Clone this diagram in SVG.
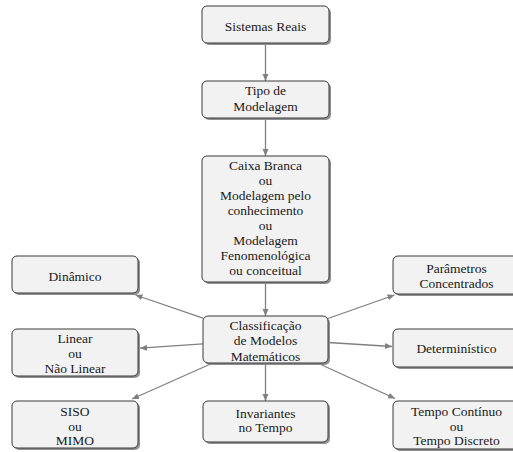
<svg xmlns="http://www.w3.org/2000/svg" width="513" height="452" viewBox="0 0 513 452">
<defs>
<style>
.sh{fill:#8f8f8f;}
.bx{fill:#f2f2f2;stroke:#3a3a3a;stroke-width:1;}
.t{font-family:"Liberation Serif","Times New Roman",Times,Tinos,"Noto Serif","DejaVu Serif","Latin Modern Roman","CMU Serif",serif;font-size:13.5px;fill:#1a1a1a;text-anchor:middle;}
.e{stroke:#808080;stroke-width:1.3;fill:none;marker-end:url(#ah);}
</style>
<marker id="ah" markerUnits="userSpaceOnUse" markerWidth="8" markerHeight="7" refX="7" refY="3" orient="auto">
<path d="M0,0 L7,3 L0,6 Z" fill="#808080"/>
</marker>
</defs>
<rect width="513" height="452" fill="#ffffff"/>
<g id="connectors">
<line class="e" x1="265.5" y1="43" x2="265.5" y2="81"/>
<line class="e" x1="265.5" y1="118" x2="265.5" y2="156"/>
<line class="e" x1="265.5" y1="282" x2="265.5" y2="316"/>
<line class="e" x1="265.5" y1="363" x2="265.5" y2="401"/>
<line class="e" x1="203" y1="318.2" x2="135.5" y2="295"/>
<line class="e" x1="203" y1="343.8" x2="140" y2="348.2"/>
<line class="e" x1="212.8" y1="363" x2="132" y2="399"/>
<line class="e" x1="328" y1="318.5" x2="394.5" y2="295"/>
<line class="e" x1="328" y1="342.5" x2="392" y2="346.5"/>
<line class="e" x1="317.5" y1="363" x2="395" y2="398.5"/>
</g>
<g id="sistemas">
<rect class="sh" x="204" y="8" width="127" height="37" rx="5"/>
<rect class="bx" x="202" y="6" width="127" height="37" rx="5"/>
<text class="t" x="265.5" y="30.5">Sistemas Reais</text>
</g>
<g id="tipo">
<rect class="sh" x="204" y="83" width="127" height="37" rx="5"/>
<rect class="bx" x="202" y="81" width="127" height="37" rx="5"/>
<text class="t" x="265.5" y="95.2">Tipo de</text>
<text class="t" x="265.5" y="111.2">Modelagem</text>
</g>
<g id="caixa">
<rect class="sh" x="204" y="158" width="127" height="126" rx="5"/>
<rect class="bx" x="202" y="156" width="127" height="126" rx="5"/>
<text class="t" x="265.5" y="169.5">Caixa Branca</text>
<text class="t" x="265.5" y="184.6">ou</text>
<text class="t" x="265.5" y="199.7">Modelagem pelo</text>
<text class="t" x="265.5" y="214.8">conhecimento</text>
<text class="t" x="265.5" y="229.9">ou</text>
<text class="t" x="265.5" y="245">Modelagem</text>
<text class="t" x="265.5" y="260.1">Fenomenológica</text>
<text class="t" x="265.5" y="275.2">ou conceitual</text>
</g>
<g id="classificacao">
<rect class="sh" x="205" y="318" width="125" height="47" rx="5"/>
<rect class="bx" x="203" y="316" width="125" height="47" rx="5"/>
<text class="t" x="265.5" y="329.5">Classificação</text>
<text class="t" x="265.5" y="345">de Modelos</text>
<text class="t" x="265.5" y="360.5">Matemáticos</text>
</g>
<g id="invariantes">
<rect class="sh" x="205" y="403" width="125" height="41" rx="5"/>
<rect class="bx" x="203" y="401" width="125" height="41" rx="5"/>
<text class="t" x="265.5" y="418">Invariantes</text>
<text class="t" x="265.5" y="432">no Tempo</text>
</g>
<g id="dinamico">
<rect class="sh" x="14" y="258" width="126" height="37" rx="5"/>
<rect class="bx" x="12" y="256" width="126" height="37" rx="5"/>
<text class="t" x="75" y="280.5">Dinâmico</text>
</g>
<g id="linear">
<rect class="sh" x="14" y="331" width="126" height="47" rx="5"/>
<rect class="bx" x="12" y="329" width="126" height="47" rx="5"/>
<text class="t" x="75" y="342.8">Linear</text>
<text class="t" x="75" y="357.8">ou</text>
<text class="t" x="75" y="372.8">Não Linear</text>
</g>
<g id="siso">
<rect class="sh" x="14" y="403" width="126" height="47" rx="5"/>
<rect class="bx" x="12" y="401" width="126" height="47" rx="5"/>
<text class="t" x="75" y="416">SISO</text>
<text class="t" x="75" y="430.5">ou</text>
<text class="t" x="75" y="445">MIMO</text>
</g>
<g id="parametros">
<rect class="sh" x="395" y="258" width="127" height="38" rx="5"/>
<rect class="bx" x="393" y="256" width="127" height="38" rx="5"/>
<text class="t" x="456.5" y="272.8">Parâmetros</text>
<text class="t" x="456.5" y="287.8">Concentrados</text>
</g>
<g id="deterministico">
<rect class="sh" x="395" y="331" width="127" height="38" rx="5"/>
<rect class="bx" x="393" y="329" width="127" height="38" rx="5"/>
<text class="t" x="456.5" y="352.8">Determinístico</text>
</g>
<g id="tempo">
<rect class="sh" x="395" y="403" width="127" height="48" rx="5"/>
<rect class="bx" x="393" y="401" width="127" height="48" rx="5"/>
<text class="t" x="456.5" y="416">Tempo Contínuo</text>
<text class="t" x="456.5" y="430.5">ou</text>
<text class="t" x="456.5" y="445">Tempo Discreto</text>
</g>
</svg>
